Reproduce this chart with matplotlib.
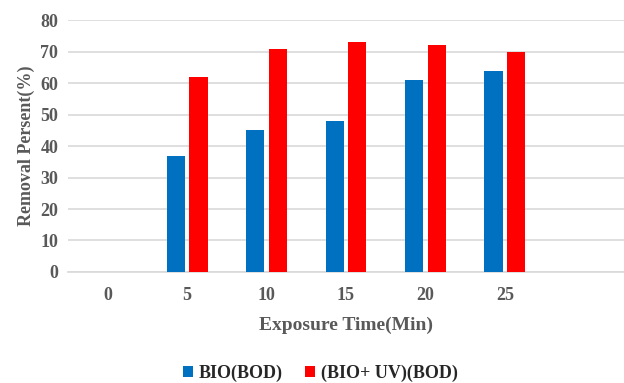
import numpy as np
import matplotlib.pyplot as plt

# Exposure times (last slot left empty on the axis)
times = ["0", "5", "10", "15", "20", "25", ""]
bio_bod = [0, 37, 45, 48, 61, 64, 0]
bio_uv_bod = [0, 62, 71, 73, 72, 70, 0]

grey = "#595959"
plt.rcParams["font.family"] = ["Liberation Serif", "DejaVu Serif"]
plt.rcParams["font.weight"] = "bold"

fig = plt.figure(figsize=(6.24, 3.83), dpi=100)
ax = fig.add_axes([0.109, 0.29, 0.891, 0.657])

x = np.arange(len(times))
w = 0.23
ax.bar(x - 0.143, bio_bod, width=w, color="#0070C0", label="BIO(BOD)", zorder=3)
ax.bar(x + 0.143, bio_uv_bod, width=w, color="#FF0000", label="(BIO+ UV)(BOD)", zorder=3)

ax.set_xlim(-0.5, len(times) - 0.5)
ax.set_ylim(0, 80)
ax.set_yticks(range(0, 81, 10))
ax.set_xticks(x)
ax.set_xticklabels(times)
ax.yaxis.grid(True, color="#d9d9d9", linewidth=1.2, zorder=0)
ax.set_axisbelow(True)

for s in ["top", "right", "left"]:
    ax.spines[s].set_visible(False)
ax.spines["bottom"].set_color("#d9d9d9")
ax.spines["bottom"].set_linewidth(1.2)
ax.tick_params(axis="both", length=0, labelsize=13, labelcolor=grey)
ax.tick_params(axis="x", pad=11)
ax.tick_params(axis="y", pad=7)

ax.set_xlabel("Exposure Time(Min)", fontsize=14, color=grey, fontweight="bold", labelpad=9)
ax.set_ylabel("Removal Persent(%)", fontsize=13, color=grey, fontweight="bold", labelpad=4)

leg = fig.legend(loc="center", bbox_to_anchor=(0.513, 0.025), ncol=2, frameon=False,
                 fontsize=13, handlelength=0.6, handleheight=0.6, handletextpad=0.3,
                 columnspacing=1.2)
for t in leg.get_texts():
    t.set_color("#262626")
    t.set_fontweight("bold")

fig.savefig("out.png", dpi=100)
